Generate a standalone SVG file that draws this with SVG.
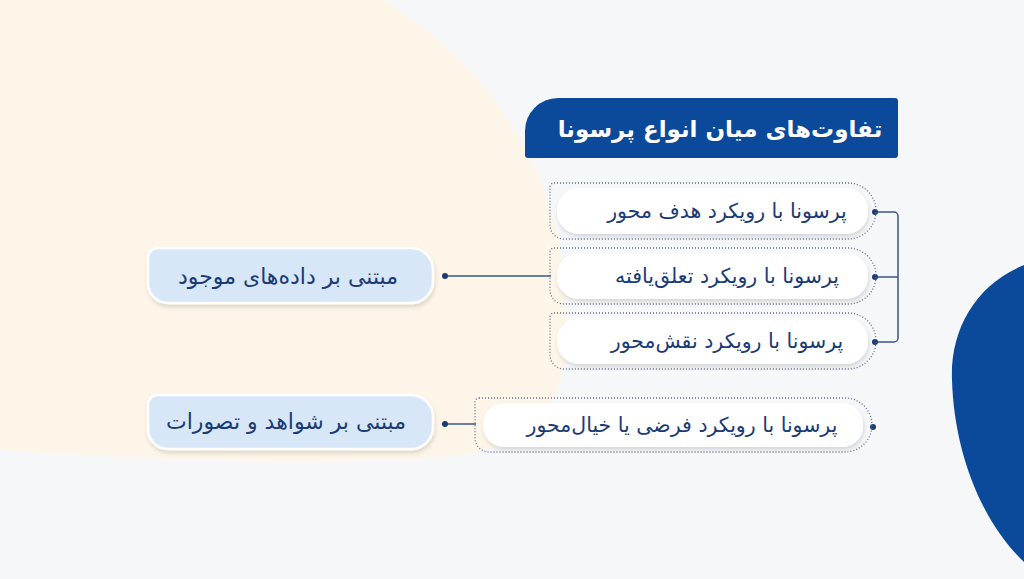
<svg xmlns="http://www.w3.org/2000/svg" width="1024" height="579" viewBox="0 0 1024 579">
  <defs>
    <style>
      .fa { font-family: "DejaVu Sans", "Noto Sans", sans-serif; direction: rtl; text-anchor: middle; }
      .title { font-size: 23px; font-weight: bold; fill: #ffffff; }
      .lbl { font-size: 20.5px; fill: #1a3b76; }
      .plbl { font-size: 22px; fill: #1a3b76; }
      .dotted { fill: none; stroke: #5f6f91; stroke-width: 1.3; stroke-dasharray: 1 2; }
      .pill { fill: #ffffff; filter: url(#sh); }
      .parent { fill: #d8e7f7; stroke: #ffffff; stroke-width: 2.5; filter: url(#sh); }
      .conn { fill: none; stroke: #3b5687; stroke-width: 1.5; }
      .dot { fill: #1b3b78; }
    </style>
    <filter id="sh" x="-10%" y="-30%" width="120%" height="170%">
      <feDropShadow dx="1" dy="3" stdDeviation="2" flood-color="#000000" flood-opacity="0.13"/>
    </filter>
  </defs>

  <!-- background -->
  <rect x="0" y="0" width="1024" height="579" fill="#f6f7f9"/>
  <path d="M0,0 L383,0 C480,60 560,160 566,300 C572,400 545,448 440,457 C300,466 120,458 0,450 Z" fill="#fdf6e8"/>
  <path d="M1024,265 C975,285 950,330 952,380 C954,450 980,520 1024,562 Z" fill="#0b4a9b"/>

  <!-- title -->
  <g id="title">
    <path d="M558,98 H895 A3 3 0 0 1 898,101 V155 A3 3 0 0 1 895,158 H528 A3 3 0 0 1 525,155 V131 A33 33 0 0 1 558,98 Z" fill="#0b4a9b"/>
    <text class="fa title" x="720" y="137">تفاوت‌های میان انواع پرسونا</text>
  </g>

  <!-- connectors -->
  <g id="connectors">
    <path class="conn" d="M875,212 H894 A4 4 0 0 1 898,216 V338 A4 4 0 0 1 894,342 H875"/>
    <path class="conn" d="M875,277 H898"/>
    <path class="conn" d="M445,276 H551"/>
    <path class="conn" d="M445,424 H476"/>
    <circle class="dot" cx="875" cy="212" r="3"/>
    <circle class="dot" cx="875" cy="277" r="3"/>
    <circle class="dot" cx="875" cy="342" r="3"/>
    <circle class="dot" cx="445" cy="276" r="3"/>
    <circle class="dot" cx="445" cy="424" r="3"/>
    <circle class="dot" cx="873" cy="427" r="3"/>
  </g>

  <!-- child nodes -->
  <g id="child-goal">
    <path class="dotted" d="M554,183 H848 A28 28 0 0 1 848,239 H564 A14 14 0 0 1 550,225 V187 A4 4 0 0 1 554,183 Z"/>
    <rect class="pill" x="557" y="188" width="311" height="46" rx="22"/>
    <text class="fa lbl" x="727" y="218">پرسونا با رویکرد هدف محور</text>
  </g>
  <g id="child-engagement">
    <path class="dotted" d="M554,248 H848 A28 28 0 0 1 848,304 H564 A14 14 0 0 1 550,290 V252 A4 4 0 0 1 554,248 Z"/>
    <rect class="pill" x="557" y="253" width="311" height="46" rx="22"/>
    <text class="fa lbl" x="727" y="283">پرسونا با رویکرد تعلق‌یافته</text>
  </g>
  <g id="child-role">
    <path class="dotted" d="M554,313 H848 A28 28 0 0 1 848,369 H564 A14 14 0 0 1 550,355 V317 A4 4 0 0 1 554,313 Z"/>
    <rect class="pill" x="557" y="318" width="311" height="46" rx="22"/>
    <text class="fa lbl" x="727" y="348">پرسونا با رویکرد نقش‌محور</text>
  </g>
  <g id="child-fiction">
    <path class="dotted" d="M479,398 H845 A27 27 0 0 1 845,452 H489 A14 14 0 0 1 475,438 V402 A4 4 0 0 1 479,398 Z"/>
    <rect class="pill" x="483" y="403" width="380" height="44" rx="21"/>
    <text class="fa lbl" x="682" y="432">پرسونا با رویکرد فرضی یا خیال‌محور</text>
  </g>

  <!-- parent nodes -->
  <g id="parent-data">
    <path class="parent" d="M158,248 H411 A22 22 0 0 1 433,270 V281 A22 22 0 0 1 411,303 H168 A20 20 0 0 1 148,283 V258 A10 10 0 0 1 158,248 Z"/>
    <text class="fa plbl" x="288" y="284">مبتنی بر داده‌های موجود</text>
  </g>
  <g id="parent-evidence">
    <path class="parent" d="M158,395 H411 A22 22 0 0 1 433,417 V427 A22 22 0 0 1 411,449 H168 A20 20 0 0 1 148,429 V405 A10 10 0 0 1 158,395 Z"/>
    <text class="fa plbl" x="286" y="429">مبتنی بر شواهد و تصورات</text>
  </g>
</svg>
